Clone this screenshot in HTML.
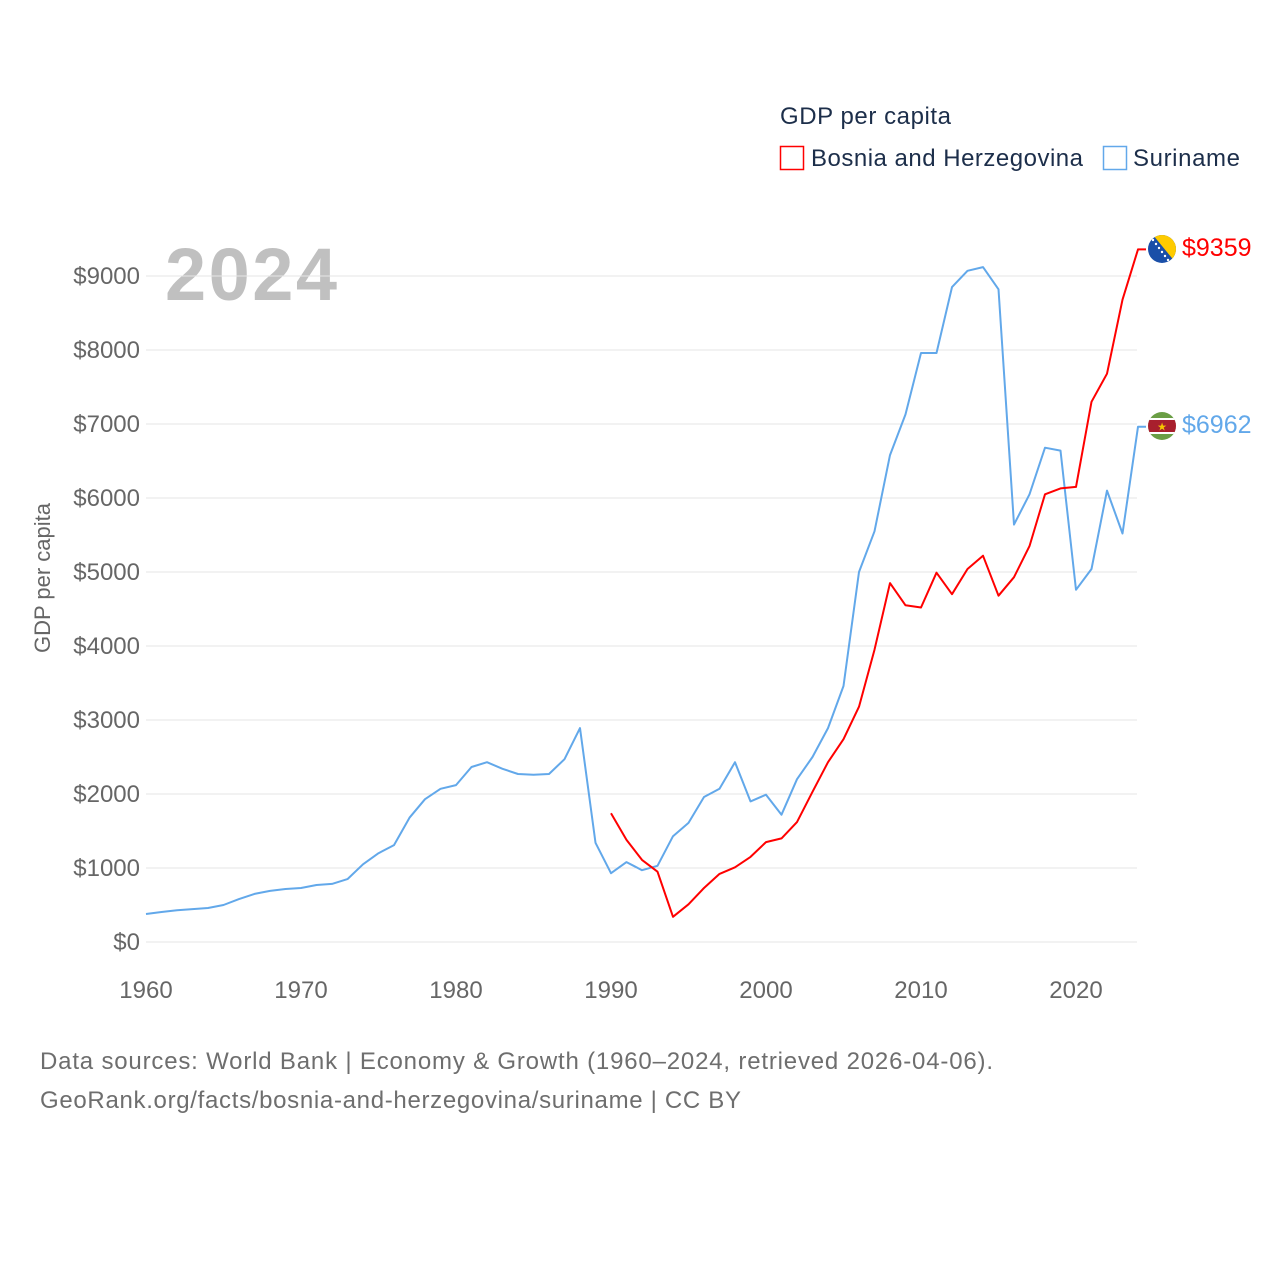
<!DOCTYPE html>
<html><head><meta charset="utf-8"><style>
body{margin:0;background:#fff;font-family:"Liberation Sans",sans-serif}
svg text{font-family:"Liberation Sans",sans-serif}
</style></head><body>
<svg width="1280" height="1280" viewBox="0 0 1280 1280">
<text x="780" y="124" font-size="24" fill="#1c2e4a" textLength="171">GDP per capita</text>
<g>
<rect x="780.5" y="146.5" width="23" height="23" fill="none" stroke="#ff0000" stroke-width="1.5"/>
<text x="811" y="166" font-size="24" fill="#1c2e4a" textLength="272">Bosnia and Herzegovina</text></g>
<g>
<rect x="1103.5" y="146.5" width="23" height="23" fill="none" stroke="#62a8ea" stroke-width="1.5"/>
<text x="1133" y="166" font-size="24" fill="#1c2e4a" textLength="107">Suriname</text></g>
<text x="165" y="300" font-size="74" font-weight="bold" fill="#c0c0c0" textLength="172">2024</text>
<text transform="translate(50,578) rotate(-90)" text-anchor="middle" font-size="22" fill="#666">GDP per capita</text>
<g id="grid"></g><g id="ylabels"></g><g id="xlabels"></g><g id="series"></g>
<g>
<clipPath id="cb"><circle cx="1162" cy="249" r="14"/></clipPath>
<g clip-path="url(#cb)"><rect x="1148" y="235" width="28" height="28" fill="#1a4fa8"/><polygon points="1153,235 1176,235 1176,263" fill="#fecb00"/>
<g fill="#fff"><circle cx="1153" cy="240" r="1.2"/><circle cx="1156" cy="244" r="1.2"/><circle cx="1159" cy="248" r="1.2"/><circle cx="1162" cy="252" r="1.2"/><circle cx="1165" cy="256" r="1.2"/><circle cx="1168" cy="260" r="1.2"/></g></g></g>
<g>
<clipPath id="cs"><circle cx="1162" cy="426" r="14"/></clipPath>
<g clip-path="url(#cs)"><rect x="1148" y="412" width="28" height="28" fill="#6a9e45"/><rect x="1148" y="418" width="28" height="16" fill="#fff"/><rect x="1148" y="420" width="28" height="12" fill="#a81f2d"/>
<text x="1162" y="430.5" font-size="11" text-anchor="middle" fill="#f6c600">★</text></g></g>
<text x="1182" y="256" font-size="25" fill="#ff0000">$9359</text>
<text x="1182" y="433" font-size="25" fill="#62a8ea">$6962</text>
<text x="40" y="1069" font-size="24" fill="#6e6e6e" textLength="953">Data sources: World Bank | Economy &amp; Growth (1960–2024, retrieved 2026-04-06).</text>
<text x="40" y="1108" font-size="24" fill="#6e6e6e" textLength="701">GeoRank.org/facts/bosnia-and-herzegovina/suriname | CC BY</text>
</svg>
<script>
const yTicks=[0,1000,2000,3000,4000,5000,6000,7000,8000,9000];
const xTicks=[1960,1970,1980,1990,2000,2010,2020];
const surinameStart=1960;
const surinameValues=[378,405,430,445,460,500,580,650,690,716,730,770,785,850,1050,1200,1310,1680,1930,2070,2120,2365,2430,2340,2270,2260,2270,2470,2890,1340,930,1080,970,1030,1430,1610,1960,2070,2430,1900,1990,1720,2200,2500,2890,3460,5000,5550,6580,7130,7960,7960,8850,9070,9120,8820,5640,6050,6680,6640,4760,5040,6100,5520,6962];
const bosniaStart=1990;
const bosniaValues=[1740,1380,1110,950,340,510,730,920,1010,1150,1350,1400,1620,2030,2430,2740,3180,3950,4850,4550,4520,4990,4700,5040,5220,4680,4930,5350,6050,6130,6150,7300,7680,8680,9359];
const NS="http://www.w3.org/2000/svg";
const xs=y=>146+(y-1960)*15.5;
const ys=v=>942-v*0.074;
function mk(t,a,p){const e=document.createElementNS(NS,t);for(const k in a)e.setAttribute(k,a[k]);p.appendChild(e);return e;}
const grid=document.getElementById('grid'),yl=document.getElementById('ylabels'),xl=document.getElementById('xlabels'),se=document.getElementById('series');
yTicks.forEach(v=>{
 const l=mk('line',{x1:146,x2:1137,y1:ys(v),y2:ys(v),stroke:'#e6e6e6','stroke-width':1},grid);
 
 
 const t=mk('text',{x:140,y:ys(v)+8,'text-anchor':'end','font-size':24,fill:'#666'},yl);
 t.textContent='$'+v;
 
 
});
xTicks.forEach(y=>{
 const t=mk('text',{x:xs(y),y:998,'text-anchor':'middle','font-size':24,fill:'#666'},xl);
 t.textContent=y;
 
 
});
function line(start,vals,color,name){
 let d=vals.map((v,i)=>(i?'L':'M')+xs(start+i).toFixed(1)+','+ys(v).toFixed(1)).join('');
 const last=ys(vals[vals.length-1]);
 d+='L'+(xs(start+vals.length-1)+8)+','+last.toFixed(1);
 const p=mk('path',{d:d,fill:'none',stroke:color,'stroke-width':2,'stroke-linejoin':'round'},se);
 
 
}
line(surinameStart,surinameValues,'#62a8ea','suriname-line');
line(bosniaStart,bosniaValues,'#ff0000','bosnia-line');
</script>
</body></html>
